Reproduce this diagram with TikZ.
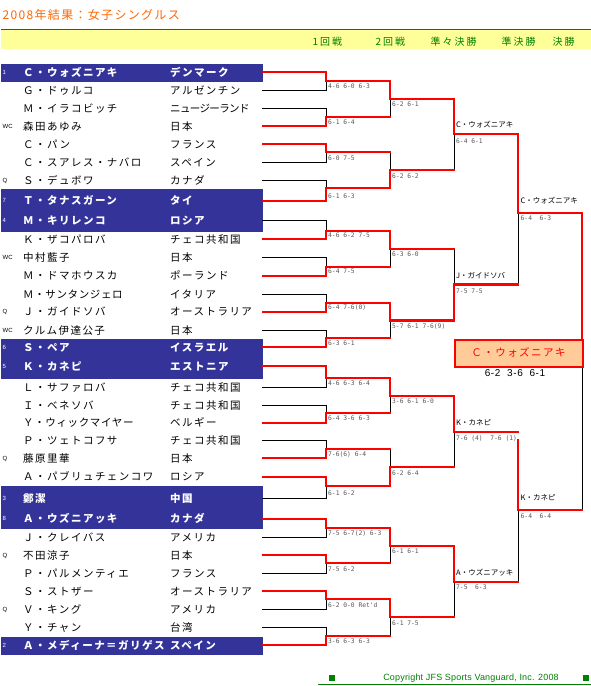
\documentclass[tikz,border=0pt]{standalone}
\usepackage{fontspec}
\newfontfamily\jp{Noto Sans CJK JP}[LetterSpace=14]
\newfontfamily\jpm{Noto Sans CJK JP}[LetterSpace=6]
\newfontfamily\jpn{Noto Sans CJK JP}[LetterSpace=-6]
\newfontfamily\jph{Noto Sans CJK JP}[LetterSpace=20]
\newfontfamily\jpt{Noto Sans CJK JP}[LetterSpace=11]
\newfontfamily\jps{Noto Sans CJK JP}
\newfontfamily\scr{DejaVu Sans Mono}
\newfontfamily\lib{Liberation Sans}
\newfontfamily\libc{Liberation Sans}[LetterSpace=2]
\newfontfamily\libf{Liberation Sans}[LetterSpace=6]
\definecolor{jblue}{RGB}{51,51,153}
\definecolor{jorange}{RGB}{255,102,0}
\definecolor{jgreen}{RGB}{0,128,0}
\definecolor{jyellow}{RGB}{255,255,153}
\definecolor{jpeach}{RGB}{255,204,153}
\definecolor{jgray}{RGB}{85,85,85}
\tikzset{
  win/.style={draw=red, line width=2.1pt, line cap=rect, line join=miter},
  lose/.style={draw=black, line width=0.9pt},
  nm/.style={anchor=base west, inner sep=0pt, font=\jp\fontsize{10.5}{12}\selectfont},
  hnm/.style={anchor=base west, inner sep=0pt, text=white, font=\jp\bfseries\fontsize{10.5}{12}\selectfont},
  tightnm/.style={nm, font=\jpm\fontsize{10.5}{12}\selectfont},
  tighternm/.style={nm, font=\jpn\fontsize{10.5}{12}\selectfont},
  mk/.style={anchor=base west, inner sep=0pt, font=\lib\fontsize{6}{6}\selectfont},
  hmk/.style={mk, text=white},
  scorelbl/.style={anchor=west, inner sep=0pt, text height=4.6pt, text depth=0pt, text=jgray, font=\scr\fontsize{6.3}{7}\selectfont},
  winlbl/.style={anchor=base west, inner sep=0pt, font=\jps\fontsize{7.5}{8}\selectfont},
  hdr/.style={anchor=base west, inner sep=0pt, text=jgreen, font=\jph\fontsize{10}{11}\selectfont},
}
\newif\ifredpass
% R1: winner y, loser y, out y
\newcommand\Rone[3]{\ifredpass\draw[win] (263,#1) -- (326,#1) -- (326,#3) -- (390,#3);%
  \else\draw[lose] (262,#2) -- (326,#2) -- (326,#3);\fi}
% later rounds: x, next x, winner y, loser y, out y
\newcommand\Rk[5]{\ifredpass\draw[win] (#1,#3) -- (#1,#5) -- (#2,#5);%
  \else\draw[lose] (#1,#4) -- (#1,#5);\fi}
\newcommand\bracketlines{%
  \Rone{72}{90}{81}\Rone{126}{108.3}{116.7}\Rone{144}{162}{152.3}\Rone{200.7}{180}{188.3}%
  \Rone{239.3}{220.7}{231}\Rone{275.7}{257.3}{266.7}\Rone{311.7}{294}{303.3}\Rone{347.3}{330}{338.3}%
  \Rone{366}{387.3}{377.7}\Rone{422.7}{405}{413.3}\Rone{458.3}{440.7}{449.3}\Rone{476.7}{498.3}{485.7}%
  \Rone{518.7}{537.3}{527.7}\Rone{555}{573.3}{563.3}\Rone{591}{609}{599.3}\Rone{645}{627.3}{635.7}%
  \Rk{390}{454}{81}{116.7}{99}\Rk{390}{454}{188.3}{152.3}{170.3}%
  \Rk{390}{454}{231}{266.7}{249}\Rk{390}{454}{303.3}{338.3}{320.5}%
  \Rk{390}{454}{377.7}{413.3}{395.7}\Rk{390}{454}{485.7}{449.3}{467.3}%
  \Rk{390}{454}{527.7}{563.3}{545.7}\Rk{390}{454}{599.3}{635.7}{617.3}%
  \Rk{454}{518}{99}{170.3}{134.3}\Rk{454}{518}{320.5}{249}{284.5}%
  \Rk{454}{518}{395.7}{467.3}{431.7}\Rk{454}{518}{545.7}{617.3}{581.7}%
  \ifredpass
    \draw[win] (518,134.3) -- (518,212.7) -- (582,212.7) -- (582,339);
    \draw[win] (518,440) -- (518,510) -- (582,510);
  \else
    \draw[lose] (518,284.5) -- (518,212.7);
    \draw[lose] (518,510) -- (518,581.7);
    \draw[lose] (582,510) -- (582,365.7);
  \fi}
% player row: index, y, mark, name, country, prefix (h for highlighted)
\newcommand\prow[6]{%
  \node[#6mk] (mk#1) at (2.5,#2+2) {#3};
  \node[#6nm] (nm#1) at (23,#2+4) {#4};
  \node[#6nm] (ct#1) at (170,#2+4) {#5};}
\begin{document}
\begin{tikzpicture}[x=1pt,y=-1pt]
\useasboundingbox (0,0) rectangle (591,686);
% title and header band
\node[anchor=base west, inner sep=0pt, text=jorange, font=\jpt\fontsize{12}{13}\selectfont] (title) at (2.5,19) {2008年結果：女子シングルス};
\fill[jgreen] (1,28.5) rectangle (591,30.3);
\fill[jyellow] (1,30.3) rectangle (591,48.7);
\node[hdr] (h1) at (312.3,45.5) {1回戦};
\node[hdr] (h2) at (375.3,45.5) {2回戦};
\node[hdr] (h3) at (430.3,45.5) {準々決勝};
\node[hdr] (h4) at (501.3,45.5) {準決勝};
\node[hdr] (h5) at (552.3,45.5) {決勝};
% highlighted (seeded) rows
\fill[jblue] (1,63.5) rectangle (263,82);
\fill[jblue] (1,188.5) rectangle (263,231.5);
\fill[jblue] (1,339) rectangle (263,379);
\fill[jblue] (1,486) rectangle (263,529);
\fill[jblue] (1,636.5) rectangle (263,655);
% players
\prow{1}{72}{1}{Ｃ・ウォズニアキ}{デンマーク}{h}
\prow{2}{90}{}{Ｇ・ドゥルコ}{アルゼンチン}{}
\node[mk] (mk3) at (2.5,110.3) {};
\node[nm] (nm3) at (23,112.3) {Ｍ・イラコビッチ};
\node[tighternm] (ct3) at (170,112.3) {ニュージーランド};
\prow{4}{126}{WC}{森田あゆみ}{日本}{}
\prow{5}{144}{}{Ｃ・パン}{フランス}{}
\prow{6}{162}{}{Ｃ・スアレス・ナバロ}{スペイン}{}
\prow{7}{180}{Q}{Ｓ・デュボワ}{カナダ}{}
\prow{8}{200.7}{7}{Ｔ・タナスガーン}{タイ}{h}
\prow{9}{220.7}{4}{Ｍ・キリレンコ}{ロシア}{h}
\prow{10}{239.3}{}{Ｋ・ザコパロバ}{チェコ共和国}{}
\prow{11}{257.3}{WC}{中村藍子}{日本}{}
\prow{12}{275.7}{}{Ｍ・ドマホウスカ}{ポーランド}{}
\node[mk] (mk13) at (2.5,296) {};
\node[tightnm] (nm13) at (23,298) {Ｍ・サンタンジェロ};
\node[nm] (ct13) at (170,298) {イタリア};
\prow{14}{311.7}{Q}{Ｊ・ガイドソバ}{オーストラリア}{}
\prow{15}{330}{WC}{クルム伊達公子}{日本}{}
\prow{16}{347.3}{6}{Ｓ・ペア}{イスラエル}{h}
\prow{17}{366}{5}{Ｋ・カネピ}{エストニア}{h}
\prow{18}{387.3}{}{Ｌ・サファロバ}{チェコ共和国}{}
\prow{19}{405}{}{Ｉ・ベネソバ}{チェコ共和国}{}
\node[mk] (mk20) at (2.5,424.7) {};
\node[tightnm] (nm20) at (23,426.7) {Ｙ・ウィックマイヤー};
\node[nm] (ct20) at (170,426.7) {ベルギー};
\prow{21}{440.7}{}{Ｐ・ツェトコフサ}{チェコ共和国}{}
\prow{22}{458.3}{Q}{藤原里華}{日本}{}
\prow{23}{476.7}{}{Ａ・パブリュチェンコワ}{ロシア}{}
\prow{24}{498.3}{3}{鄭潔}{中国}{h}
\prow{25}{518.7}{8}{Ａ・ウズニアッキ}{カナダ}{h}
\prow{26}{537.3}{}{Ｊ・クレイバス}{アメリカ}{}
\prow{27}{555}{Q}{不田涼子}{日本}{}
\prow{28}{573.3}{}{Ｐ・パルメンティエ}{フランス}{}
\prow{29}{591}{}{Ｓ・ストザー}{オーストラリア}{}
\prow{30}{609}{Q}{Ｖ・キング}{アメリカ}{}
\prow{31}{627.3}{}{Ｙ・チャン}{台湾}{}
\prow{32}{645}{2}{Ａ・メディーナ＝ガリゲス}{スペイン}{h}
% bracket lines: black first, red on top
\redpassfalse\bracketlines
\redpasstrue\bracketlines
% champion box
\node[draw=red, line width=2pt, fill=jpeach, minimum width=127.7pt, minimum height=26.7pt, inner sep=0pt, anchor=north west] (champbox) at (454,339) {};
\node[anchor=base, inner sep=0pt, text=red, font=\jp\fontsize{10.5}{12}\selectfont] (champ) at (518.5,356.2) {Ｃ・ウォズニアキ};
\node[anchor=center, inner sep=0pt, font=\libf\fontsize{10}{11}\selectfont] (final) at (515,372.7) {6-2\ \ 3-6\ \ 6-1};
% first round scores
\node[scorelbl] (s1) at (328,86.3) {4-6 6-0 6-3};
\node[scorelbl] (s2) at (328,122) {6-1 6-4};
\node[scorelbl] (s3) at (328,157.7) {6-0 7-5};
\node[scorelbl] (s4) at (328,196.4) {6-1 6-3};
\node[scorelbl] (s5) at (328,235) {4-6 6-2 7-5};
\node[scorelbl] (s6) at (328,271.4) {6-4 7-5};
\node[scorelbl] (s7) at (328,307.4) {6-4 7-6(0)};
\node[scorelbl] (s8) at (328,343) {6-3 6-1};
\node[scorelbl] (s9) at (328,383) {4-6 6-3 6-4};
\node[scorelbl] (s10) at (328,418.4) {6-4 3-6 6-3};
\node[scorelbl] (s11) at (328,454) {7-6(6) 6-4};
\node[scorelbl] (s12) at (328,493.5) {6-1 6-2};
\node[scorelbl] (s13) at (328,533) {7-5 6-7(2) 6-3};
\node[scorelbl] (s14) at (328,569) {7-5 6-2};
\node[scorelbl] (s15) at (328,604.7) {6-2 0-0 Ret'd};
\node[scorelbl] (s16) at (328,640.7) {3-6 6-3 6-3};
% second round scores
\node[scorelbl] (t1) at (392,104.4) {6-2 6-1};
\node[scorelbl] (t2) at (392,175.9) {6-2 6-2};
\node[scorelbl] (t3) at (392,254) {6-3 6-0};
\node[scorelbl] (t4) at (392,326) {5-7 6-1 7-6(9)};
\node[scorelbl] (t5) at (392,401) {3-6 6-1 6-0};
\node[scorelbl] (t6) at (392,473) {6-2 6-4};
\node[scorelbl] (t7) at (392,551.5) {6-1 6-1};
\node[scorelbl] (t8) at (392,623) {6-1 7-5};
% quarter-final winners and scores
\node[winlbl] (q1) at (456,127.9) {C・ウォズニアキ};
\node[scorelbl] (qs1) at (456,140.8) {6-4 6-1};
\node[winlbl] (q2) at (456,278.1) {J・ガイドソバ};
\node[scorelbl] (qs2) at (456,291) {7-5 7-5};
\node[winlbl] (q3) at (456,425.3) {K・カネピ};
\node[scorelbl] (qs3) at (456,438.3) {7-6 (4)\ \ 7-6 (1)};
\node[winlbl] (q4) at (456,575.3) {A・ウズニアッキ};
\node[scorelbl] (qs4) at (456,587.5) {7-5\ \ 6-3};
% semi-final winners and scores
\node[winlbl] (f1) at (520.5,203) {C・ウォズニアキ};
\node[scorelbl] (fs1) at (520.5,218.2) {6-4\ \ 6-3};
\node[winlbl] (f2) at (520.5,500.4) {K・カネピ};
\node[scorelbl] (fs2) at (520.5,515.7) {6-4\ \ 6-4};
% footer
\fill[jgreen] (329.3,675.3) rectangle (334.7,680.7);
\fill[jgreen] (583.3,675.3) rectangle (588.7,680.7);
\node[anchor=center, inner sep=0pt, text=jgreen, font=\libc\fontsize{9}{10}\selectfont] (copy) at (471,678) {Copyright JFS Sports Vanguard, Inc. 2008};
\draw[jgreen, line width=1pt] (318,684.6) -- (591,684.6);
\end{tikzpicture}
\end{document}
